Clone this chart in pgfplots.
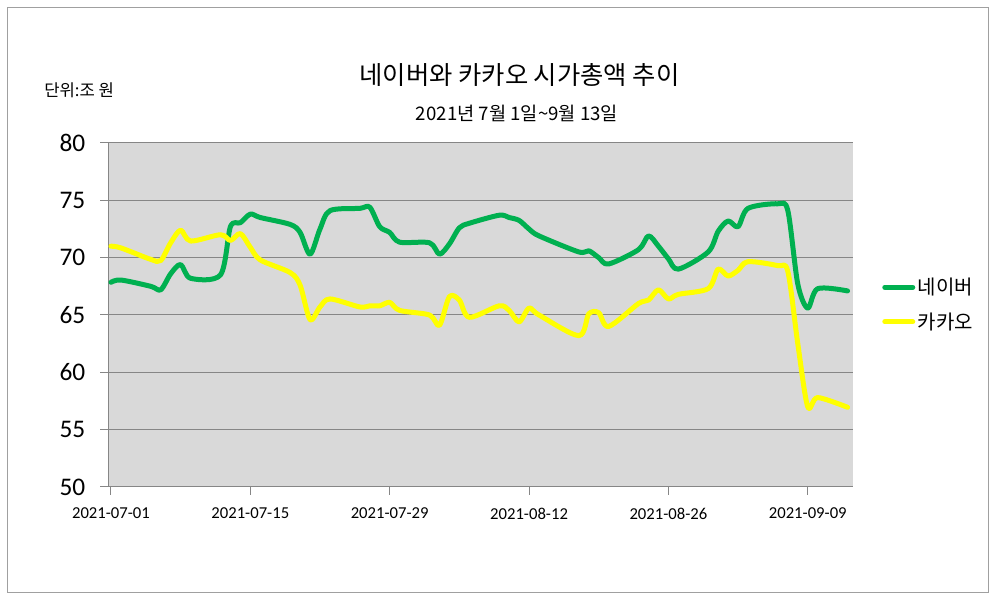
\documentclass[border=0pt]{standalone}
\usepackage{pgfplots}
\pgfplotsset{compat=1.18}
\usepackage{pgfplotstable}
\usepackage{fontspec}
\setmainfont{Noto Sans CJK KR}
\newfontfamily\carlito{Carlito}
\definecolor{navergreen}{RGB}{0,176,80}
\definecolor{kakaoyellow}{RGB}{255,255,0}
\definecolor{plotbg}{RGB}{217,217,217}
\definecolor{gridgray}{RGB}{134,134,134}
\definecolor{framegray}{RGB}{160,160,160}

\pgfplotstableread{
d v
0 67.85
1 68.05
4 67.5
5 67.2
6 68.6
7 69.4
8 68.2
11 68.5
12 72.7
13 73.05
14 73.8
15 73.5
18 72.9
19 72.2
20 70.3
21 72.5
22 74.1
25 74.3
26 74.4
27 72.7
28 72.2
29 71.35
32 71.3
33 70.3
34 71.2
35 72.6
36 73.0
39 73.7
40 73.5
41 73.25
42 72.5
43 71.9
47 70.5
48 70.6
49 70.0
50 69.45
53 70.7
54 71.9
55 71.0
56 69.9
57 69.0
60 70.5
61 72.3
62 73.2
63 72.7
64 74.3
67 74.7
68 74.1
69 67.7
70 65.6
71 67.3
74 67.1
}\naver

\pgfplotstableread{
d v
0 71.0
1 70.85
4 69.85
5 69.75
6 71.3
7 72.4
8 71.45
11 72.0
12 71.5
13 72.1
14 70.9
15 69.8
18 68.7
19 67.6
20 64.6
21 65.7
22 66.4
25 65.7
26 65.8
27 65.8
28 66.1
29 65.4
32 65.0
33 64.1
34 66.6
35 66.3
36 64.8
39 65.8
40 65.4
41 64.4
42 65.6
43 65.0
47 63.2
48 65.1
49 65.2
50 64.0
53 66.0
54 66.3
55 67.2
56 66.4
57 66.8
60 67.3
61 69.0
62 68.4
63 68.9
64 69.65
67 69.3
68 68.8
69 62.5
70 57.0
71 57.8
74 56.95
}\kakao

\begin{document}
\begin{tikzpicture}[x=0.75pt,y=0.75pt]
\path[fill=white] (0,0) rectangle (1000,606);
\draw[framegray, line width=0.75pt] (7,13) rectangle (988,598);
\node[font=\fontsize{19}{22}\selectfont] at (519.5,531) {네이버와 카카오 시가총액 추이};
\node[font=\fontsize{14}{16}\selectfont] at (517,493) {2021년 7월 1일\textasciitilde 9월 13일};
\node[anchor=west, font=\fontsize{12.5}{14}\selectfont, inner sep=0pt] at (44,516) {단위:조 원};
\begin{axis}[
  at={(81pt,89.25pt)}, anchor=south west,
  scale only axis,
  width=558.4pt, height=258pt,
  xmin=-0.3, xmax=74.5,
  ymin=50, ymax=80,
  xtick={0,14,28,42,56,70},
  xticklabels={2021-07-01,2021-07-15,2021-07-29,2021-08-12,2021-08-26,2021-09-09},
  ytick={50,55,...,80},
  axis background/.style={fill=plotbg},
  axis x line*=bottom, axis y line*=left,
  axis line style={gridgray, line width=0.75pt, -},
  tick style={gridgray, line width=0.75pt},
  tick align=outside,
  major tick length=6pt,
  ymajorgrids,
  major grid style={gridgray, line width=0.75pt},
  /pgf/number format/assume math mode=true,
  yticklabel style={font=\carlito\fontsize{19}{21}\selectfont, xshift=-7.5pt},
  xticklabel style={font=\carlito\fontsize{12.5}{14}\selectfont, yshift=-6pt},
  legend style={at={(1.0396,0.5305)}, anchor=west, draw=none, fill=none,
    font=\fontsize{15}{18}\selectfont, row sep=8pt, inner sep=0pt},
  legend cell align=left,
  legend image code/.code={\draw[line width=3.75pt,#1] (0pt,0pt) -- (21pt,0pt);},
]
\addplot[navergreen, line width=3.75pt, smooth, tension=0.5, line cap=round, line join=round] table[x=d,y=v] {\naver};
\addlegendentry{네이버}
\addplot[kakaoyellow, line width=3.75pt, smooth, tension=0.5, line cap=round, line join=round] table[x=d,y=v] {\kakao};
\addlegendentry{카카오}
\end{axis}
\end{tikzpicture}
\end{document}
